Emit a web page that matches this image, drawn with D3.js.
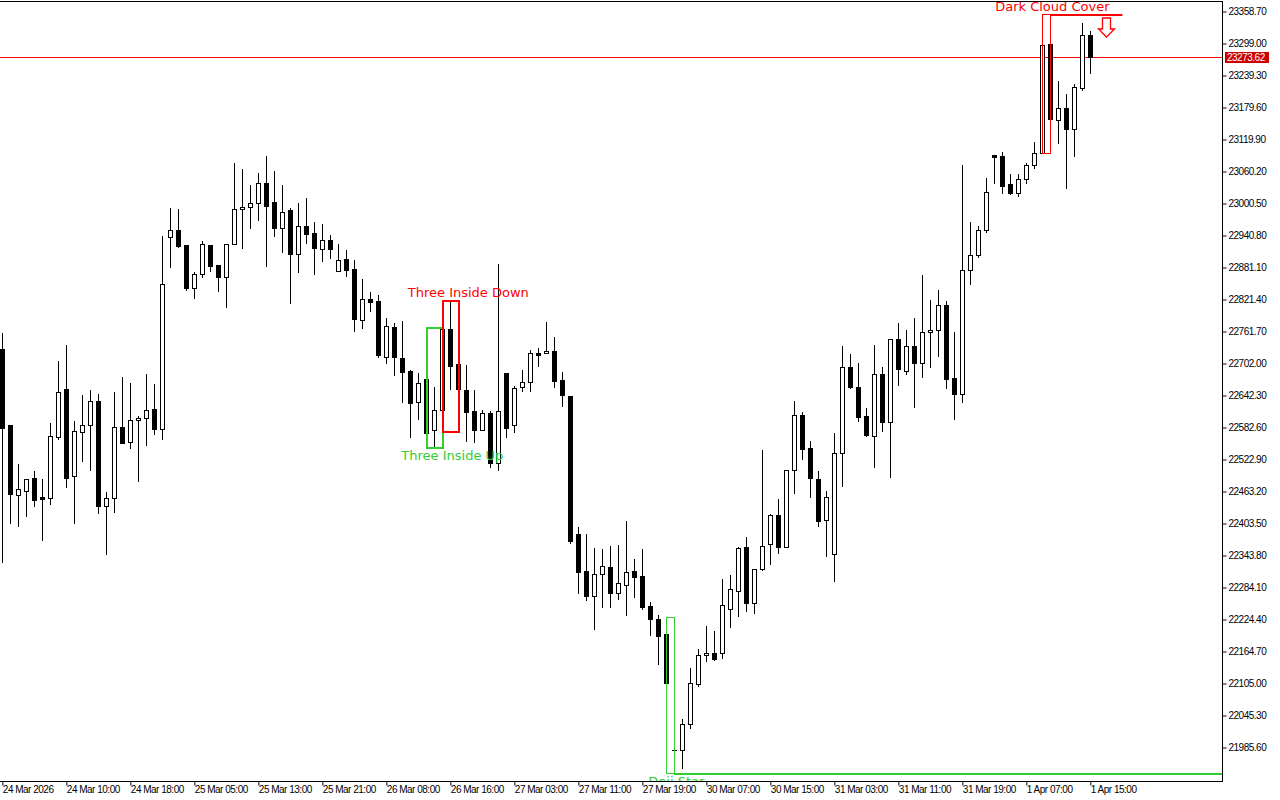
<!DOCTYPE html>
<html><head><meta charset="utf-8">
<script src="https://cdn.jsdelivr.net/npm/d3@7"></script>
<style>body{margin:0;background:#fff;} svg{display:block;}</style>
</head><body><svg id="c" width="1280" height="800"></svg>
<script>
// ---- DATA (H1 candles, 24 Mar 2026 - 1 Apr 2026) ----
const opens = [22729.1,22587.3,22456.1,22463.6,22488.4,22452.9,22450.5,22565.4,22654.4,22492.7,
22573.6,22586.7,22632.0,22436.7,22450.5,22583.0,22555.0,22596.0,22599.8,22616.6,
22580.4,22938.6,22951.1,22923.1,22842.3,22868.4,22923.1,22885.8,22862.8,22924.4,
22989.7,22993.4,23000.9,23038.2,23002.7,22954.2,22987.8,22906.8,22958.0,22945.5,
22916.2,22932.4,22874.0,22897.0,22878.3,22782.6,22821.8,22818.6,22713.6,22770.1,
22712.3,22688.0,22629.6,22672.5,22577.4,22614.7,22766.4,22700.5,22652.0,22612.8,
22577.4,22609.7,22515.8,22684.3,22586.7,22657.6,22666.9,22721.0,22721.0,22725.3,
22671.2,22641.4,22383.9,22314.9,22268.8,22308.7,22322.3,22274.4,22289.3,22314.9,
22305.6,22249.6,22225.3,22197.3,21980.4,21980.4,22028.9,22104.6,22157.6,22161.3,
22161.9,22243.4,22277.0,22359.1,22254.6,22318.1,22364.7,22418.8,22359.1,22502.8,
22605.4,22543.8,22486.0,22409.5,22346.0,22535.0,22694.9,22657.6,22603.5,22567.3,
22681.9,22593.4,22747.1,22688.6,22734.1,22703.5,22760.2,22763.9,22810.6,22674.4,
22645.7,22875.9,22903.9,22950.5,23090.4,23089.7,23037.4,23020.6,23045.6,23072.3,
23094.2,23298.1,23156.3,23178.1,23138.9,23216.0,23314.3];
const highs = [22758.9,22587.3,22514.5,22486.0,22501.4,22486.5,22591.0,22706.7,22736.5,22595.3,
22643.2,22652.6,22645.1,22462.3,22648.8,22676.8,22665.6,22604.1,22682.4,22663.8,
22939.9,22992.1,22990.2,22923.1,22872.1,22930.5,22923.1,22885.8,22924.4,23076.1,
23064.9,23035.0,23057.4,23089.1,23061.1,23035.0,22991.5,23001.4,23010.2,22966.0,
22962.3,22941.7,22924.9,22913.7,22895.1,22859.6,22835.4,22829.8,22786.3,22777.0,
22781.8,22689.9,22683.7,22697.3,22658.2,22770.1,22820.5,22721.0,22699.2,22652.6,
22614.7,22612.8,22887.6,22684.3,22659.5,22689.9,22727.2,22730.9,22779.4,22750.9,
22686.1,22641.4,22397.5,22383.9,22358.4,22355.9,22361.5,22364.0,22408.2,22337.3,
22355.9,22257.0,22232.8,22229.6,22124.0,22038.8,22133.9,22169.4,22212.3,22202.9,
22299.9,22307.4,22360.2,22377.8,22318.1,22540.6,22420.7,22449.2,22502.8,22632.0,
22612.1,22557.4,22501.4,22464.1,22571.8,22734.6,22719.7,22703.5,22619.5,22736.5,
22695.5,22747.1,22777.6,22764.5,22786.9,22867.1,22820.5,22839.1,22818.6,22760.8,
23072.3,22966.0,22958.5,23047.5,23090.4,23097.1,23056.1,23055.5,23075.5,23114.7,
23295.6,23353.5,23229.0,23204.2,23223.4,23336.7,23321.8];
const lows = [22331.6,22405.0,22398.8,22418.1,22436.7,22372.7,22440.4,22561.1,22472.2,22405.0,
22520.1,22503.3,22423.1,22347.2,22425.5,22554.2,22544.9,22483.3,22550.5,22571.0,
22561.7,22882.6,22919.9,22839.7,22824.8,22863.9,22875.1,22837.8,22808.0,22924.4,
22918.0,22955.4,22970.3,22884.5,22940.4,22910.6,22815.4,22873.3,22927.4,22869.5,
22893.8,22899.4,22874.0,22865.8,22763.2,22768.8,22800.5,22713.6,22702.4,22681.1,
22630.7,22565.4,22598.5,22572.9,22546.8,22576.1,22653.9,22630.7,22558.0,22556.1,
22577.4,22509.5,22503.9,22565.4,22574.8,22651.2,22651.2,22697.9,22721.0,22658.7,
22623.3,22367.7,22274.4,22260.8,22206.7,22248.3,22248.3,22263.2,22233.4,22266.9,
22244.6,22196.0,22141.9,22105.9,21937.5,21946.8,22021.4,22100.9,22147.5,22148.8,
22152.6,22211.0,22231.5,22240.8,22236.0,22316.2,22328.5,22347.9,22359.1,22461.0,
22524.4,22453.5,22399.4,22343.4,22296.8,22474.0,22656.9,22595.3,22567.3,22509.5,
22576.6,22490.8,22662.4,22683.0,22621.4,22676.8,22696.0,22716.6,22656.9,22599.0,
22630.7,22850.9,22900.1,22947.3,23038.2,23019.5,23018.2,23015.0,23038.7,23066.2,
23094.2,23150.7,23112.8,23028.9,23088.6,23211.7,23243.4];
const closes = [22582.2,22458.0,22467.3,22486.0,22447.9,22449.8,22566.2,22648.8,22488.9,22576.1,
22586.7,22632.0,22436.7,22450.5,22583.0,22554.2,22596.0,22599.8,22614.7,22580.4,
22849.8,22951.1,22921.2,22843.4,22868.4,22924.4,22884.5,22862.8,22924.4,22989.7,
22993.4,23000.9,23038.2,22996.4,22955.4,22984.1,22906.8,22958.0,22944.2,22918.0,
22932.4,22916.2,22895.1,22877.0,22785.6,22821.8,22817.3,22717.3,22771.4,22713.6,
22686.7,22628.9,22665.1,22572.9,22614.7,22766.4,22696.8,22653.9,22612.1,22577.4,
22609.1,22516.9,22612.8,22581.1,22656.3,22666.9,22721.0,22718.4,22725.3,22669.9,
22643.8,22370.9,22313.6,22268.8,22309.3,22324.2,22274.4,22292.5,22313.0,22304.2,
22247.7,22225.9,22194.2,22106.5,21980.9,22028.9,22105.4,22157.6,22161.3,22151.3,
22250.9,22280.7,22357.2,22254.6,22318.1,22361.0,22418.8,22359.1,22502.8,22605.4,
22541.9,22487.8,22408.7,22452.4,22535.6,22694.9,22658.7,22602.7,22567.8,22681.9,
22593.4,22747.1,22692.3,22734.1,22703.5,22760.2,22763.9,22810.6,22673.6,22645.7,
22875.9,22903.9,22950.5,23022.5,23087.3,23033.7,23020.6,23045.6,23071.8,23095.3,
23295.6,23157.6,23178.1,23138.9,23218.4,23314.3,23273.62];
const timeLabels = ["24 Mar 2026","24 Mar 10:00","24 Mar 18:00","25 Mar 05:00","25 Mar 13:00","25 Mar 21:00",
"26 Mar 08:00","26 Mar 16:00","27 Mar 03:00","27 Mar 11:00","27 Mar 19:00","30 Mar 07:00","30 Mar 15:00",
"31 Mar 03:00","31 Mar 11:00","31 Mar 19:00","1 Apr 07:00","1 Apr 15:00"];
const timeLabelBars = [0,8,16,24,32,40,48,56,64,72,80,88,96,104,112,120,128,136];
const priceTicks = [23358.70,23299.00,23239.30,23179.60,23119.90,23060.20,23000.50,22940.80,22881.10,22821.40,
22761.70,22702.00,22642.30,22582.60,22522.90,22463.20,22403.50,22343.80,22284.10,22224.40,22164.70,22105.00,22045.30,21985.60];
const currentPrice = 23273.62;
// candlestick patterns: first bar, last bar, direction, bar where the level line ends
const patternNames = ["Three Inside Up","Three Inside Down","Doji Star","Dark Cloud Cover"];
const patternFrom = [53,55,83,130];
const patternTo = [55,57,84,131];
const patternBull = [true,false,true,false];
const patternLineTo = [null,null,200,140];

// ---- DRAW ----
const W = 1280, H = 800, plotR = 1222, plotB = 781;
const svg = d3.select("#c");
const n = opens.length;
const x = d3.scaleLinear().domain([0, n - 1]).range([2.33, 2.33 + 8 * (n - 1)]);
const y = d3.scaleLinear().domain([21985.6, 23358.7]).range([747.5, 11.5]);
const AX = "Liberation Sans, Arial, sans-serif";
const LBL = "DejaVu Sans, Verdana, sans-serif";
const GREEN = "#32cd32", RED = "#ff0000";

svg.append("defs").append("clipPath").attr("id","clip")
  .append("rect").attr("x",0).attr("y",0).attr("width",plotR).attr("height",plotB);
const plot = svg.append("g").attr("clip-path","url(#clip)");

// current price line
const yCur = Math.round(y(currentPrice));
plot.append("rect").attr("x",0).attr("y",yCur).attr("width",plotR).attr("height",1).attr("fill","#ff0000");

// candles
const candles = plot.append("g");
d3.range(n).forEach(i => {
  const cx = Math.round(x(i));
  const yH = Math.round(y(highs[i])), yL = Math.round(y(lows[i]));
  const yO = Math.round(y(opens[i])), yC = Math.round(y(closes[i]));
  const top = Math.min(yO, yC), bot = Math.max(yO, yC);
  candles.append("rect").attr("x",cx).attr("y",yH).attr("width",1).attr("height",yL - yH + 1).attr("fill","#000");
  if (bot - top < 1) {
    candles.append("rect").attr("x",cx-2).attr("y",top).attr("width",5).attr("height",1).attr("fill","#000");
  } else if (closes[i] > opens[i]) {
    candles.append("rect").attr("x",cx-1.5).attr("y",top+0.5).attr("width",4).attr("height",bot-top)
      .attr("fill","#fff").attr("stroke","#000").attr("stroke-width",1);
  } else {
    candles.append("rect").attr("x",cx-2).attr("y",top).attr("width",5).attr("height",bot-top+1).attr("fill","#000");
  }
});

// patterns
const pat = plot.append("g");
patternNames.forEach((name, k) => {
  const a = patternFrom[k], b = patternTo[k];
  const hi = d3.max(highs.slice(a, b + 1)), lo = d3.min(lows.slice(a, b + 1));
  const col = patternBull[k] ? GREEN : RED;
  const x0 = Math.round(x(a)), x1 = Math.round(x(b));
  const yT = Math.round(y(hi)), yB = Math.round(y(lo));
  const thick = (b - a >= 2) ? 2 : 1;
  pat.append("rect").attr("x",x0 + 0.5*thick).attr("y",yT + 0.5*thick).attr("width",x1 - x0).attr("height",yB - yT)
    .attr("fill","none").attr("stroke",col).attr("stroke-width",thick);
  if (patternLineTo[k] !== null) {
    const ly = patternBull[k] ? yB : yT;
    pat.append("rect").attr("x",x1).attr("y",ly).attr("width",x(patternLineTo[k]) - x1)
      .attr("height",2).attr("fill",col);
  }
  const cxText = (b - a >= 2) ? x(b) + 10 : x(b) + 2;
  const ty = patternBull[k] ? yB + 13 : yT - 3;
  pat.append("text").attr("x",cxText).attr("y",ty).attr("text-anchor","middle")
    .attr("font-family",LBL).attr("font-size","13px").attr("fill",col).text(name);
  if (!patternBull[k] && patternLineTo[k] !== null) {
    const ax = Math.round(x(b + 7)) + 0.5, ay = yT + 4;
    const p = `M${ax-4},${ay} L${ax+4},${ay} L${ax+4},${ay+11} L${ax+8},${ay+11} L${ax},${ay+19} L${ax-8},${ay+11} L${ax-4},${ay+11} Z`;
    pat.append("path").attr("d",p).attr("fill","#fff").attr("stroke",col).attr("stroke-width",1.3);
  }
});

// frame
svg.append("rect").attr("x",0).attr("y",1).attr("width",plotR+1).attr("height",1).attr("fill","#000");
svg.append("rect").attr("x",plotR).attr("y",1).attr("width",1).attr("height",plotB).attr("fill","#000");
svg.append("rect").attr("x",0).attr("y",plotB).attr("width",plotR+1).attr("height",1).attr("fill","#000");

// price axis
const ya = svg.append("g").attr("transform",`translate(${plotR+0.5},0)`)
  .call(d3.axisRight(y).tickValues(priceTicks).tickSize(4).tickPadding(2).tickFormat(d3.format(".2f")));
ya.select(".domain").remove();
ya.selectAll("line").attr("stroke","#000");
ya.selectAll("text").attr("font-family",AX).attr("font-size","10px").attr("letter-spacing","-0.5px").attr("fill","#000");

// current price label
const curG = svg.append("g");
curG.append("rect").attr("x",plotR+3).attr("y",yCur-5).attr("width",44).attr("height",11).attr("fill","#cc0000");
curG.append("text").attr("x",plotR+5).attr("y",yCur+4).attr("font-family",AX).attr("font-size","10px")
  .attr("letter-spacing","-0.5px").attr("fill","#fff").text(d3.format(".2f")(currentPrice));

// time axis
const xa = svg.append("g").attr("transform",`translate(0,${plotB+0.5})`)
  .call(d3.axisBottom(x).tickValues(timeLabelBars).tickSize(4).tickPadding(0).tickFormat((d,i) => timeLabels[i]));
xa.select(".domain").remove();
xa.selectAll("line").attr("stroke","#000");
xa.selectAll("text").attr("text-anchor","start").attr("dx","0").attr("font-family",AX).attr("font-size","10px")
  .attr("letter-spacing","-0.5px").attr("fill","#000");
</script></body></html>
